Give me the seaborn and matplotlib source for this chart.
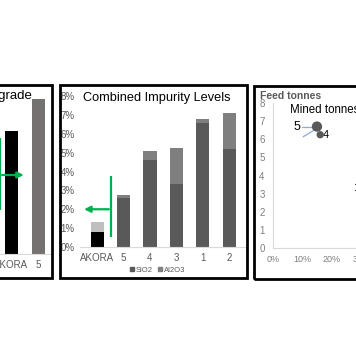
import numpy as np
import pandas as pd
import seaborn as sns
import matplotlib.pyplot as plt
from matplotlib.patches import Rectangle
from matplotlib.lines import Line2D

# Left panel (grade), only partly visible
grade_labels = ["AKORA", "5"]
grade_values = [61.5, 77.5]

# Middle panel: combined impurity levels
impurity_labels = ["AKORA", "5", "4", "3", "1", "2"]
sio2 = [0.0081, 0.0262, 0.0460, 0.0335, 0.0655, 0.0519]
al2o3 = [0.0054, 0.0016, 0.0048, 0.0192, 0.0021, 0.0189]

# Right panel: feed tonnes vs impurity
tonnes_labels = ["5", "4", "1"]
tonnes_impurity = [0.149, 0.160, 0.305]
feed_tonnes = [6.7, 6.25, 3.3]

sns.set_style("white")
plt.rcParams['font.family'] = ['Liberation Sans', 'DejaVu Sans']

W, H = 356, 364
fig = plt.figure(figsize=(W / 100, H / 100), dpi=100)
fig.patch.set_facecolor('white')
green = '#00b050'
grey_txt = '#595959'


def px_rect(x0, y0, x1, y1):
  # pixel box (top-left origin) -> figure fraction rect
  return [x0 / W, 1 - y1 / H, (x1 - x0) / W, (y1 - y0) / H]


def border(x0, y0, x1, y1):
  r = Rectangle((x0 / W, 1 - y1 / H), (x1 - x0) / W, (y1 - y0) / H,
                transform=fig.transFigure, fill=False, lw=2.0, ec='black')
  fig.add_artist(r)


#Left panel
ax0 = fig.add_axes(px_rect(-21, 94, 50.6, 254))
sns.barplot(x=grade_labels, y=grade_values, hue=grade_labels,
            palette=['black', '#767171'], width=0.48, saturation=1,
            legend=False, linewidth=0, ax=ax0)
ax0.set_xlim(-1.2, 1.45)
ax0.set_ylim(0, 80)
ax0.set_yticks([])
for s in ['left', 'right', 'top']:
  ax0.spines[s].set_visible(False)
ax0.spines['bottom'].set_color('#d9d9d9')
ax0.tick_params(axis='x', length=0, pad=4, labelsize=7, labelcolor=grey_txt)
ax0.set(xlabel='', ylabel='')
ax0.vlines(-0.41, 22, 58, color=green, lw=1.6, zorder=5)
ax0.annotate('', xy=(0.56, 39.5), xytext=(-0.45, 39.5),
             arrowprops=dict(arrowstyle='-|>', color=green, lw=1.6,
                             mutation_scale=9), zorder=6)
fig.text(32 / W, 1 - 96 / H, 'Fe grade', ha='right', va='center',
         fontsize=9.5, color='black')
border(-20, 85, 51.7, 278)

#Middle panel
ax1 = fig.add_axes(px_rect(80, 96, 245, 247))
totals = list(np.array(sio2) + np.array(al2o3))
sns.barplot(x=impurity_labels, y=totals, hue=impurity_labels,
            palette=['#bfbfbf'] + ['#7f7f7f'] * 5, width=0.5, saturation=1,
            legend=False, linewidth=0, ax=ax1)
sns.barplot(x=impurity_labels, y=sio2, hue=impurity_labels,
            palette=['black'] + ['#595959'] * 5, width=0.5, saturation=1,
            legend=False, linewidth=0, ax=ax1)
ax1.set_xlim(-0.65, 5.6)
ax1.set_ylim(0, 0.08)
ax1.set_yticks(np.arange(0, 0.081, 0.01))
ax1.set_yticklabels([f'{i}%' for i in range(9)])
for s in ['left', 'right', 'top']:
  ax1.spines[s].set_visible(False)
ax1.spines['bottom'].set_color('#d9d9d9')
ax1.tick_params(axis='y', length=0, pad=4, labelsize=7, labelcolor=grey_txt)
ax1.tick_params(axis='x', length=0, pad=4.5, labelsize=7, labelcolor=grey_txt)
ax1.set(xlabel='', ylabel='')
ax1.vlines(0.53, 0.0053, 0.0376, color=green, lw=1.6, zorder=5)
ax1.annotate('', xy=(-0.6, 0.02), xytext=(0.55, 0.02),
             arrowprops=dict(arrowstyle='-|>', color=green, lw=1.6,
                             mutation_scale=9), zorder=6)
fig.text(83 / W, 1 - 98 / H, 'Combined Impurity Levels', ha='left',
         va='center', fontsize=9.2, color='black')
handles = [Line2D([], [], marker='s', ls='', color='#595959', markersize=3),
           Line2D([], [], marker='s', ls='', color='#7f7f7f', markersize=3)]
fig.legend(handles, ['SiO2', 'Al2O3'], loc='center', ncol=2,
           bbox_to_anchor=(157 / W, 1 - 270 / H), frameon=False,
           fontsize=5.5, handletextpad=0.05, columnspacing=0.6,
           handlelength=0.8, labelcolor=grey_txt)
border(59.5, 85.3, 247.5, 278)

#Right panel
ax2 = fig.add_axes(px_rect(273, 103, 391, 248))
df = pd.DataFrame({'label': tonnes_labels, 'x': tonnes_impurity,
                   'y': feed_tonnes})
sns.scatterplot(data=df, x='x', y='y', size='label',
                sizes={'5': 55, '4': 28, '1': 28}, color='#595959',
                edgecolor='none', legend=False, ax=ax2, zorder=4)
ax2.set_xlim(0, 0.4)
ax2.set_ylim(0, 8)
ax2.set_yticks(range(9))
ax2.set_xticks([0, 0.1, 0.2, 0.3])
ax2.set_xticklabels(['0%', '10%', '20%', '30%'])
for s in ['right', 'top']:
  ax2.spines[s].set_visible(False)
ax2.spines['left'].set_color('#d9d9d9')
ax2.spines['bottom'].set_color('#d9d9d9')
ax2.tick_params(axis='y', length=0, pad=6, labelsize=7, labelcolor='#7f7f7f')
ax2.tick_params(axis='x', length=0, pad=5, labelsize=6.5, labelcolor='#7f7f7f')
ax2.set(xlabel='', ylabel='')
ax2.plot([0.098, 0.143], [6.7, 6.7], color='#8eaadb', lw=0.9)
ax2.plot([0.102, 0.147], [6.13, 6.58], color='#8eaadb', lw=0.9)
ax2.text(0.092, 6.7, tonnes_labels[0], ha='right', va='center',
         fontsize=9, color='black')
ax2.text(0.168, 6.25, tonnes_labels[1], ha='left', va='center',
         fontsize=8, color='black')
ax2.text(0.291, 3.3, tonnes_labels[2], ha='right', va='center',
         fontsize=8, color='black')
fig.text(260 / W, 1 - 96 / H, 'Feed tonnes', ha='left', va='center',
         fontsize=7.5, color=grey_txt, fontweight='bold')
fig.text(290 / W, 1 - 110 / H, 'Mined tonnes', ha='left', va='center',
         fontsize=8.3, color='black')
border(254.3, 86, 400, 278.5)

fig.savefig('out.png', dpi=100)
